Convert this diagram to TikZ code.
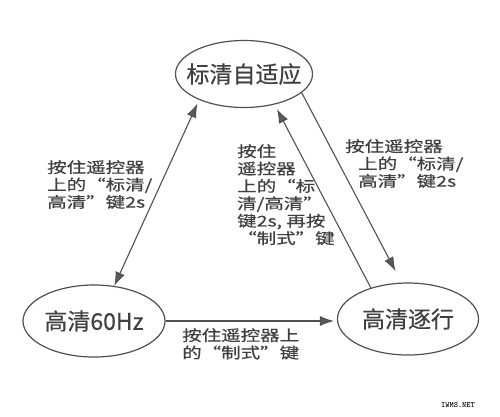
\documentclass[tikz,border=0pt]{standalone}
\usepackage{fontspec}
\newfontfamily\lblfont[FakeStretch=1.3,FakeBold=0.6]{Noto Sans CJK SC}
\newfontfamily\nodefont[FakeBold=0.5]{Noto Sans CJK SC}
\usetikzlibrary{arrows.meta,shapes.geometric}
\definecolor{linec}{HTML}{505050}
\definecolor{txtc}{HTML}{404040}
\definecolor{tipc}{HTML}{5A5A5A}
\begin{document}
\begin{tikzpicture}[x=1pt,y=-1pt,
  state/.style={ellipse, draw=linec, line width=1.2pt, inner sep=0pt,
    font=\nodefont\fontsize{23}{26}\selectfont, text=txtc},
  lbl/.style={align=left, anchor=north west, inner sep=0pt,
    font=\lblfont\fontsize{15}{17.4}\selectfont, text=txtc},
  conn/.style={draw=linec, line width=1.1pt},
  ahead/.tip={Latex[length=14pt,width=10pt,fill=tipc]}
]
\useasboundingbox (0,0) rectangle (500,416);

\node[state, minimum width=137pt, minimum height=67pt] (top) at (244,74) {\makebox[0pt]{标清自适应}};
\node[state, minimum width=142pt, minimum height=72pt] (left) at (94,321) {\makebox[0pt]{高清60Hz}};
\node[state, minimum width=141pt, minimum height=72pt] (right) at (408,319) {\makebox[0pt]{高清逐行}};

\draw[conn, ahead-ahead, shorten >=4pt] (left.60) -- (top.210);
\draw[conn, -ahead, shorten >=5pt] (right.140) -- (top.-45);
\draw[conn, -ahead, shorten >=13pt] (top.-18) -- (right.100);
\draw[conn, -ahead, shorten >=3pt] (left.east) -- (left.east -| right.west);

\node[lbl] (l1) at (47,160) {按住遥控器\\上的“标清/\\高清”键2s};
\node[lbl] (l2) at (237,144) {按住\\遥控器\\上的“标\\清/高清”\\键2s, 再按\\“制式”键};
\node[lbl] (l3) at (345,139) {按住遥控器\\\hspace*{13pt}上的“标清/\\\hspace*{13pt}高清”键2s};
\node[lbl] (l4) at (182,328) {按住遥控器上\\的“制式”键};

\node[font=\ttfamily\bfseries\fontsize{8}{8}\selectfont, inner sep=0pt] (wm) at (458,405) {IWMS.NET};
\end{tikzpicture}
\end{document}
